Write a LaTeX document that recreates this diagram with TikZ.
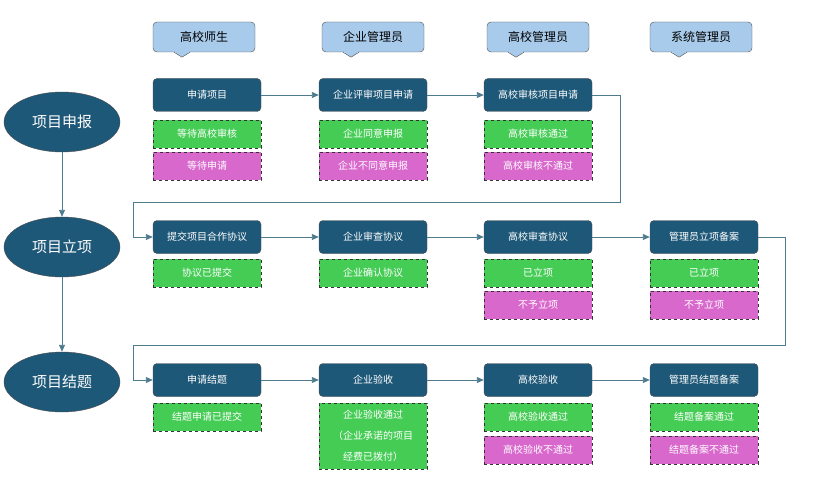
\documentclass[tikz,border=0pt]{standalone}
\usepackage{fontspec}
\newfontfamily\cjk{Noto Sans CJK SC}
\usetikzlibrary{shapes.geometric,arrows.meta}
\definecolor{dblue}{HTML}{1E5878}
\definecolor{gbox}{HTML}{45CC55}
\definecolor{pbox}{HTML}{D868CC}
\definecolor{hfill}{HTML}{A9CBEB}
\definecolor{lnc}{HTML}{4E7C8E}
\tikzset{
 x=1pt,y=-1pt,
 main/.style={draw=black!70,fill=dblue,rounded corners=4pt,minimum width=108pt,minimum height=33pt,text=white,font=\cjk\fontsize{10}{12}\selectfont,inner sep=0pt},
 gr/.style={draw=black!80,dashed,line width=0.8pt,fill=gbox,minimum width=108pt,minimum height=28pt,text=white,font=\cjk\fontsize{10}{12}\selectfont,inner sep=0pt,align=center},
 pk/.style={gr,fill=pbox},
 ell/.style={ellipse,draw=black!70,fill=dblue,minimum width=116pt,minimum height=60pt,text=white,font=\cjk\fontsize{15}{18}\selectfont,inner sep=0pt},
 hd/.style={draw=black!70,fill=hfill,rounded corners=4pt,minimum width=102pt,minimum height=30pt,font=\cjk\fontsize{12}{14}\selectfont,inner sep=0pt},
 ar/.style={draw=lnc,line width=0.9pt,-{Triangle[length=7pt,width=6pt]}},
}
\begin{document}
\begin{tikzpicture}
\useasboundingbox (0,0) rectangle (816,500);
% headers
\foreach \n/\x/\t in {h1/204/高校师生,h2/373/企业管理员,h3/538/高校管理员,h4/701/系统管理员}{
 \node[hd] (\n) at (\x,37) {\t};
 \fill[hfill,draw=black!70] ([xshift=-30pt]\n.south) -- ([xshift=-22pt,yshift=-5pt]\n.south) -- ([xshift=-14pt]\n.south);
 \fill[hfill] ([xshift=-29pt,yshift=1pt]\n.south) rectangle ([xshift=-15pt,yshift=-1pt]\n.south);
}
% ellipses
\node[ell] (e1) at (62,122) {项目申报};
\node[ell] (e2) at (62,247) {项目立项};
\node[ell] (e3) at (62,382) {项目结题};
\draw[ar] (e1) -- (e2);
\draw[ar] (e2) -- (e3);
% row1
\node[main] (a1) at (207,95) {申请项目};
\node[main] (a2) at (373,95) {企业评审项目申请};
\node[main] (a3) at (538,95) {高校审核项目申请};
\node[gr] (a1g) at (207,134) {等待高校审核};
\node[pk] (a1p) at (207,166) {等待申请};
\node[gr] (a2g) at (373,134) {企业同意申报};
\node[pk] (a2p) at (373,166) {企业不同意申报};
\node[gr] (a3g) at (538,134) {高校审核通过};
\node[pk] (a3p) at (538,166) {高校审核不通过};
% row2
\node[main] (b1) at (207,237) {提交项目合作协议};
\node[main] (b2) at (373,237) {企业审查协议};
\node[main] (b3) at (538,237) {高校审查协议};
\node[main] (b4) at (704,237) {管理员立项备案};
\node[gr] (b1g) at (207,273) {协议已提交};
\node[gr] (b2g) at (373,273) {企业确认协议};
\node[gr] (b3g) at (538,273) {已立项};
\node[pk] (b3p) at (538,305) {不予立项};
\node[gr] (b4g) at (704,273) {已立项};
\node[pk] (b4p) at (704,305) {不予立项};
% row3
\node[main] (c1) at (207,380) {申请结题};
\node[main] (c2) at (373,380) {企业验收};
\node[main] (c3) at (538,380) {高校验收};
\node[main] (c4) at (704,380) {管理员结题备案};
\node[gr] (c1g) at (207,417) {结题申请已提交};
\node[gr,minimum height=66pt,font=\cjk\fontsize{10}{21}\selectfont] (c2g) at (373,436) {企业验收通过\\（企业承诺的项目\\经费已拨付）};
\node[gr] (c3g) at (538,417) {高校验收通过};
\node[pk] (c3p) at (538,450) {高校验收不通过};
\node[gr] (c4g) at (704,417) {结题备案通过};
\node[pk] (c4p) at (704,450) {结题备案不通过};
% connectors
\draw[ar] (a1) -- (a2);
\draw[ar] (a2) -- (a3);
\draw[ar] (a3.east) -- ++(28,0) |- (133,202) |- (b1.west);
\draw[ar] (b1) -- (b2);
\draw[ar] (b2) -- (b3);
\draw[ar] (b3) -- (b4);
\draw[ar] (b4.east) -- ++(27,0) |- (133,345) |- (c1.west);
\draw[ar] (c1) -- (c2);
\draw[ar] (c2) -- (c3);
\draw[ar] (c3) -- (c4);
\end{tikzpicture}
\end{document}
